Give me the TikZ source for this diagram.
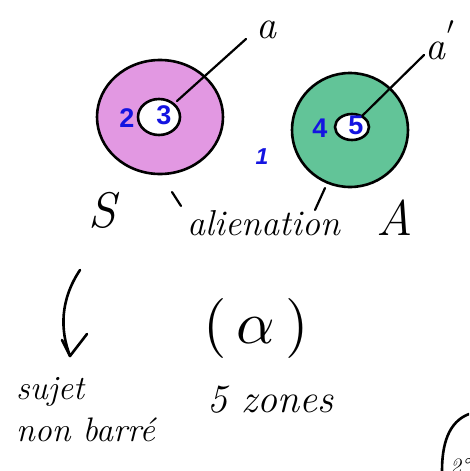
\documentclass[tikz,border=0pt]{standalone}
\usepackage{fontspec}
\newfontfamily\numfont{Liberation Sans}
\definecolor{pinkfill}{RGB}{226,152,226}
\definecolor{greenfill}{RGB}{98,196,152}
\definecolor{numblue}{RGB}{20,20,225}
\tikzset{
  ink/.style={line width=2.6pt, line cap=round, line join=round, black},
  hand/.style={font=\itshape\fontsize{#1}{#1}\selectfont, inner sep=0pt},
  zone/.style={font=\numfont\bfseries\fontsize{27}{27}\selectfont, text=numblue, inner sep=0pt},
}
\begin{document}
\begin{tikzpicture}[x=1pt,y=-1pt]
\useasboundingbox (0,0) rectangle (469,471);
\clip (0,0) rectangle (469,471);
% S disc
\draw[ink, fill=pinkfill, even odd rule] (160,117) ellipse [x radius=63, y radius=57]
      (159,117) ellipse [x radius=21, y radius=18];
\coordinate (sh) at (177,101);
\node[hand=40] (a1) at (266,30) {a};
\draw[ink, line width=2.2pt] (sh) -- (246,39);
% A disc
\draw[ink, fill=greenfill, even odd rule] (350,130) ellipse [x radius=58, y radius=57]
      (352,127) ellipse [x radius=17, y radius=13];
\coordinate (ah) at (362,116);
\node[hand=40] (a2) at (440,40) {a\raisebox{16pt}{\kern1pt$'$}};
\draw[ink, line width=2.2pt] (ah) -- (424,55);
% zone numbers
\node[zone, font=\numfont\bfseries\itshape\fontsize{23}{23}\selectfont] (n1) at (262,157) {1};
\node[zone] (n2) at (127,118) {2};
\node[zone] (n3) at (164,115) {3};
\node[zone] (n4) at (320,128) {4};
\node[zone] (n5) at (356,125) {5};
% labels
\node[hand=50] (S) at (102,210) {S};
\node[hand=50] (A) at (395,218) {A};
\node[hand=36] (al) at (264,223) {alienation};
\draw[ink, line width=2.2pt] (172,192) -- (181,206);
\draw[ink, line width=2.2pt] (325,188) -- (315,210);
% arrow to sujet non barre
\coordinate (t0) at (80,270);
\coordinate (t1) at (70,356);
\draw[ink] (t0) .. controls (60,300) and (60,330) .. (t1);
\draw[ink] (62,340) -- (t1) -- (87,334);
\node[hand=34, anchor=west] (sj1) at (16,392) {sujet};
\node[hand=34, anchor=west] (sj2) at (16,430) {non barré};
% alpha
\node[inner sep=0pt] (alpha) at (256,328) {\scalebox{6}{$(\,\alpha\,)$}};
\node[hand=40] (z) at (270,400) {5 zones};
% partial bottom-right
\draw[ink] (442,471) .. controls (442,445) and (448,422) .. (469,414);
\node[hand=22, anchor=north west] (deg) at (450,458) {2°};
\end{tikzpicture}
\end{document}
